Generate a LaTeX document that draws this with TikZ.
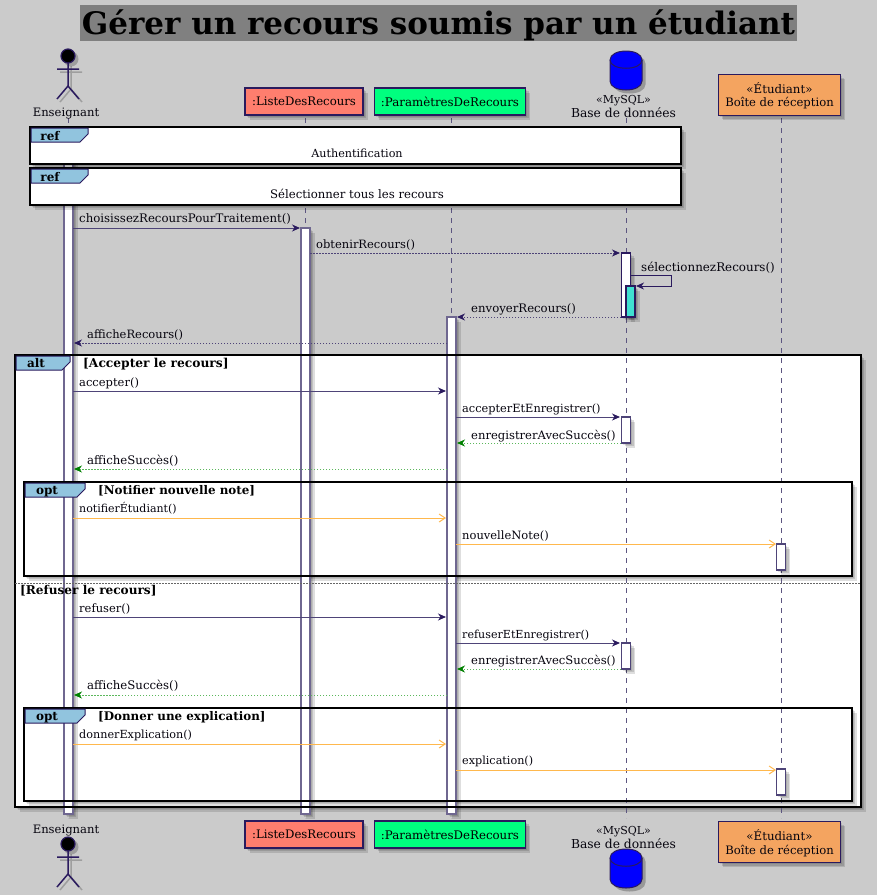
\documentclass[tikz,border=0pt]{standalone}
\usepackage{fontspec}
\setmainfont{DejaVu Serif}
\usetikzlibrary{arrows.meta,shadows}
\definecolor{bgc}{HTML}{CBCBCB}
\definecolor{titlec}{HTML}{808080}
\definecolor{ink}{HTML}{2A1A5E}
\definecolor{inkl}{HTML}{4E4478}
\definecolor{barl}{HTML}{6F6790}
\definecolor{lifec}{HTML}{5C5580}
\definecolor{tabc}{HTML}{91C4DE}
\definecolor{salmon}{HTML}{FF7E6E}
\definecolor{spring}{HTML}{00FF7F}
\definecolor{sandy}{HTML}{F4A460}
\definecolor{turq}{HTML}{40E0D0}
\definecolor{okgreen}{HTML}{008000}
\definecolor{okline}{HTML}{5CB85C}
\definecolor{orangec}{HTML}{FFB84D}
\newcommand{\fs}[1]{\fontsize{#1}{14}\selectfont}
\tikzset{
  softshadow/.style={
    general shadow={fill=black,opacity=.10,shadow xshift=1.5pt,shadow yshift=-1.5pt},
    general shadow={fill=black,opacity=.13,shadow xshift=3pt,shadow yshift=-3pt},
    general shadow={fill=black,opacity=.13,shadow xshift=4.5pt,shadow yshift=-4.5pt}},
  msgtext/.style={inner sep=0pt,anchor=base west,text=black!85!ink,font=\fs{11.6}},
  ctext/.style={inner sep=0pt,anchor=base,text=black!85!ink,font=\fs{11.6}},
  boldtext/.style={inner sep=0pt,anchor=base west,text=black,font=\fs{12}\bfseries},
  solidmsg/.style={draw=inkl,line width=1pt,-{Stealth[length=8pt,width=7pt,inset=2.5pt,color=ink]}},
  dotmsg/.style={draw=inkl,line width=1pt,dash pattern=on 1.5pt off 1.5pt,-{Stealth[length=8pt,width=7pt,inset=2.5pt,color=ink]}},
  greenmsg/.style={draw=okline,line width=1pt,dash pattern=on 1.5pt off 1.5pt,-{Stealth[length=8pt,width=7pt,inset=2.5pt,color=okgreen]}},
  orangemsg/.style={draw=orangec,line width=1pt,-{Straight Barb[length=6pt,width=8pt,color=orangec]}},
  lifeline/.style={draw=lifec,line width=1pt,dash pattern=on 5pt off 5pt},
  barbox/.style={draw=barl,fill=white,line width=1.2pt,softshadow},
  smallbar/.style={draw=inkl,fill=white,line width=1.2pt,softshadow},
  framefill/.style={fill=white,softshadow},
  frameline/.style={draw=black,line width=2pt},
  tabshape/.style={fill=tabc,draw=ink,line width=1pt},
  partbox/.style={draw=ink,line width=1.2pt,softshadow},
  actorfig/.pic={
    \fill[black,opacity=.22] (3,3) circle (7.5);
    \draw[black,opacity=.22,line width=1.5pt] (-8,16) -- (14,16) (3,10) -- (3,33) (-8,46) -- (3,33) -- (14,46);
    \draw[draw=ink,fill=black,line width=1.2pt] (0,0) circle (7);
    \draw[ink,line width=1.5pt] (-11,13) -- (11,13) (0,7) -- (0,30) (-11,43) -- (0,30) -- (11,43);
  },
  dbfig/.pic={
    \fill[black,opacity=.25] (3.5,3.5) .. controls (3.5,-8.5) and (35.5,-8.5) .. (35.5,3.5) -- (35.5,24.5) .. controls (35.5,36.5) and (3.5,36.5) .. (3.5,24.5) -- cycle;
    \draw[draw=ink,fill=blue,line width=1pt] (0,0) .. controls (0,-12) and (32,-12) .. (32,0) -- (32,21) .. controls (32,33) and (0,33) .. (0,21) -- cycle;
    \draw[ink,line width=1pt] (0,0) .. controls (0,11) and (32,11) .. (32,0);
  }
}
\newcommand{\msgline}[8]{%
  \coordinate (#1a) at (#3,#5);
  \coordinate (#1b) at (#4,#5);
  \draw[#2] (#1a) -- (#1b);
  \node[msgtext] (#1t) at (#6,#7) {#8};
}
\newcommand{\tabpoly}[4]{%
  \draw[tabshape] (#2,#4) -- (#3,#4) -- (#3,#4+6) -- (#3-8,#4+14) -- (#2,#4+14) -- cycle;
}
\begin{document}
\begin{tikzpicture}[x=1pt,y=-1pt]
\useasboundingbox[fill=bgc] (0,0) rectangle (877,895);
% title
\fill[titlec] (80,5) rectangle (797,41);
\node[inner sep=0pt,anchor=base,text=black,font=\fontsize{31}{36}\selectfont\bfseries] (title) at (438.5,34) {Gérer un recours soumis par un étudiant};

% combined fragments: fills
\path[framefill] (15,355) rectangle (861,807);
\path[framefill] (24,482) rectangle (852,576);
\path[framefill] (24,708) rectangle (852,801);

% lifelines
\coordinate (l1t) at (68,118); \coordinate (l1b) at (68,818);
\coordinate (l2t) at (305,118); \coordinate (l2b) at (305,818);
\coordinate (l3t) at (451,118); \coordinate (l3b) at (451,818);
\coordinate (l4t) at (626,118); \coordinate (l4b) at (626,818);
\coordinate (l5t) at (781,118); \coordinate (l5b) at (781,818);
\draw[lifeline] (l1t) -- (l1b);
\draw[lifeline] (l2t) -- (l2b);
\draw[lifeline] (l3t) -- (l3b);
\draw[lifeline] (l4t) -- (l4b);
\draw[lifeline] (l5t) -- (l5b);

% activation bars
\draw[barbox] (64,150) rectangle (73,814);
\draw[barbox] (301,228) rectangle (310,814);
\draw[barbox] (447,317) rectangle (456,814);
\draw[smallbar,draw=ink] (621.5,253) rectangle (630.5,317);
\draw[smallbar,draw=ink,fill=turq] (626,286) rectangle (635,317);
\draw[smallbar] (621.5,417) rectangle (630.5,443);
\draw[smallbar] (776.5,544) rectangle (785.5,570);
\draw[smallbar] (621.5,643) rectangle (630.5,669);
\draw[smallbar] (776.5,769) rectangle (785.5,795);

% messages
\msgline{m1}{solidmsg}{73}{300}{228}{79}{222.5}{\fs{11.75}choisissezRecoursPourTraitement()}
\msgline{m2}{dotmsg}{310}{620}{253}{316}{248.5}{\fs{11.5}obtenirRecours()}
\coordinate (m3a) at (631,275); \coordinate (m3c) at (671,275); \coordinate (m3d) at (671,286); \coordinate (m3b) at (636,286);
\draw[solidmsg,draw=ink] (m3a) -- (m3c) -- (m3d) -- (m3b);
\node[msgtext,font=\fs{11.9}] (m3t) at (641,271) {sélectionnezRecours()};
\msgline{m4}{dotmsg}{621}{457}{317}{471}{312}{\fs{11.7}envoyerRecours()}
\msgline{m5}{dotmsg}{447}{74}{343}{87}{338}{\fs{11.5}afficheRecours()}
\msgline{m6}{solidmsg}{73}{446}{391}{79}{386.5}{\fs{11.5}accepter()}
\msgline{m7}{solidmsg}{456}{620}{417}{462}{412.5}{\fs{11.35}accepterEtEnregistrer()}
\msgline{m8}{greenmsg}{621}{457}{443}{471}{439.5}{enregistrerAvecSuccès()}
\msgline{m9}{greenmsg}{447}{74}{469}{87}{464.5}{\fs{11.75}afficheSuccès()}
\msgline{m10}{orangemsg}{73}{446}{518}{79}{512.5}{\fs{11}notifierÉtudiant()}
\msgline{m11}{orangemsg}{456}{776}{544}{462}{539.5}{\fs{11.5}nouvelleNote()}
\msgline{m12}{solidmsg}{73}{446}{617}{79}{612.5}{\fs{11.5}refuser()}
\msgline{m13}{solidmsg}{456}{620}{643}{462}{638.5}{\fs{11.1}refuserEtEnregistrer()}
\msgline{m14}{greenmsg}{621}{457}{669}{471}{664.5}{enregistrerAvecSuccès()}
\msgline{m15}{greenmsg}{447}{74}{695}{87}{689.5}{\fs{11.75}afficheSuccès()}
\msgline{m16}{orangemsg}{73}{446}{744}{79}{738.5}{\fs{11.2}donnerExplication()}
\msgline{m17}{orangemsg}{456}{776}{770}{462}{764.5}{\fs{11.2}explication()}

% fragment outlines
\draw[frameline] (15,355) rectangle (861,807);
\draw[frameline] (24,482) rectangle (852,576);
\draw[frameline] (24,708) rectangle (852,801);
\tabpoly{a}{16}{70}{356}
\tabpoly{b}{25}{85}{483}
\tabpoly{c}{25}{85}{709}
\node[boldtext,anchor=base] (altlab) at (36,367) {alt};
\node[boldtext,anchor=base] (opt1lab) at (47,494) {opt};
\node[boldtext,anchor=base] (opt2lab) at (47,720) {opt};
\node[boldtext,font=\fs{12.25}\bfseries] (g1) at (83,367) {[Accepter le recours]};
\node[boldtext,font=\fs{11.9}\bfseries] (g2) at (98,494) {[Notifier nouvelle note]};
\node[boldtext,font=\fs{11.9}\bfseries] (g3) at (98,720) {[Donner une explication]};
\coordinate (sepa) at (15,583); \coordinate (sepb) at (861,583);
\draw[draw=black!60,line width=1pt,dash pattern=on 1.5pt off 1.5pt] (sepa) -- (sepb);
\node[boldtext,font=\fs{12.1}\bfseries] (g4) at (20,594) {[Refuser le recours]};

% ref frames
\draw[framefill,frameline] (30,127) rectangle (681,164);
\tabpoly{r1}{31}{88}{128}
\node[boldtext,anchor=base] (ref1) at (50,140) {ref};
\node[ctext,font=\fs{11.2}] (ref1t) at (357,157) {Authentification};
\draw[framefill,frameline] (30,168) rectangle (681,205);
\tabpoly{r2}{31}{88}{169}
\node[boldtext,anchor=base] (ref2) at (50,181) {ref};
\node[ctext,font=\fs{11.7}] (ref2t) at (357,198) {Sélectionner tous les recours};

% participants, top
\pic at (68,56) {actorfig};
\node[ctext] (act1) at (66,116) {Enseignant};
\node[partbox,fill=salmon,minimum width=118pt,minimum height=27pt,inner sep=0pt,font=\fs{11.7}] (p2) at (304,101.5) {:ListeDesRecours};
\node[partbox,fill=spring,minimum width=151pt,minimum height=27pt,inner sep=0pt,font=\fs{11.8}] (p3) at (450,101.5) {:ParamètresDeRecours};
\pic at (610,60) {dbfig};
\node[ctext,font=\fs{11}] (db1a) at (623.5,103) {«MySQL»};
\node[ctext,font=\fs{12.3}] (db1b) at (623.5,117) {Base de données};
\node[partbox,fill=sandy,minimum width=122pt,minimum height=41pt,inner sep=0pt] (p5) at (779.5,95) {};
\node[ctext,font=\fs{11.8}] (p5a) at (779.5,93) {«Étudiant»};
\node[ctext] (p5b) at (779.5,106) {Boîte de réception};

% participants, bottom
\node[ctext] (act2) at (66,833) {Enseignant};
\pic at (68,844) {actorfig};
\node[partbox,fill=salmon,minimum width=118pt,minimum height=27pt,inner sep=0pt,font=\fs{11.7}] (q2) at (304,834.5) {:ListeDesRecours};
\node[partbox,fill=spring,minimum width=151pt,minimum height=27pt,inner sep=0pt,font=\fs{11.8}] (q3) at (450,834.5) {:ParamètresDeRecours};
\node[ctext,font=\fs{11}] (db2a) at (623.5,834) {«MySQL»};
\node[ctext,font=\fs{12.3}] (db2b) at (623.5,848) {Base de données};
\pic at (610,858) {dbfig};
\node[partbox,fill=sandy,minimum width=122pt,minimum height=41pt,inner sep=0pt] (q5) at (779.5,842) {};
\node[ctext,font=\fs{11.8}] (q5a) at (779.5,840) {«Étudiant»};
\node[ctext] (q5b) at (779.5,854) {Boîte de réception};
\end{tikzpicture}
\end{document}
